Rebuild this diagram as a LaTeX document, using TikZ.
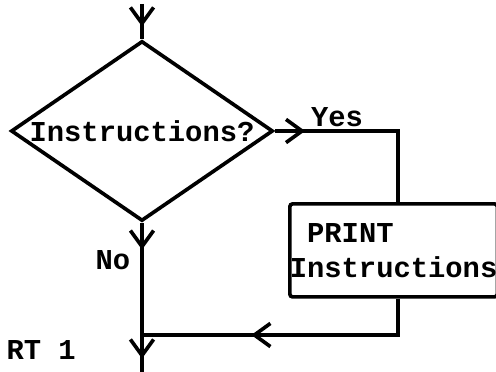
\documentclass[tikz,border=0pt]{standalone}
\usepackage{fontspec}
\setmonofont{Liberation Mono}
\usetikzlibrary{shapes.geometric,arrows.meta,decorations.markings}

\tikzset{
    flowtip/.tip={Straight Barb[length=4mm,width=5.8mm]},
    midarrow/.style={postaction={decorate,decoration={markings,
        mark=at position #1 with {\arrow{flowtip}}}}},
    tty/.style={font=\fontsize{20.5}{25}\selectfont\ttfamily\bfseries},
    decision/.style={draw, diamond, aspect=1.456, inner sep=0pt,
        minimum width=6.55cm, minimum height=4.5cm},
    printbox/.style={draw, rounded corners=2pt, inner sep=0pt, align=left,
        minimum width=5.075cm, minimum height=2.325cm}
}

\begin{document}
\begin{tikzpicture}[line width=2.6pt, line join=miter]
    \useasboundingbox (0, 0) rectangle (12.4, 9.3);
    \node[decision, tty] (ask) at (3.55, 6.025) {Instructions?};
    \node[printbox, tty] (print) at (9.84, 3.04) {~PRINT\\Instructions};
    \coordinate (start) at (3.55, 9.2);
    \coordinate (yes) at (9.95, 6.025);
    \coordinate (back) at (9.95, 0.925);
    \coordinate (join) at (3.55, 0.925);
    \coordinate (stop) at (3.55, 0);
    \draw[midarrow=0.64] (start) -- (ask.north);
    \draw[midarrow=0.156] (ask.east) -- (yes) -- (print.north -| yes);
    \draw[midarrow=0.626] (print.south -| back) -- (back) -- (join);
    \draw[midarrow=0.18, midarrow=0.91] (ask.south) -- (stop);
    \node[tty] (yeslabel) at (8.425, 6.375) {Yes};
    \node[tty] (nolabel) at (2.825, 2.8) {No};
    \node[tty, anchor=west] (chart) at (0, 0.55) {RT 1};
\end{tikzpicture}
\end{document}
